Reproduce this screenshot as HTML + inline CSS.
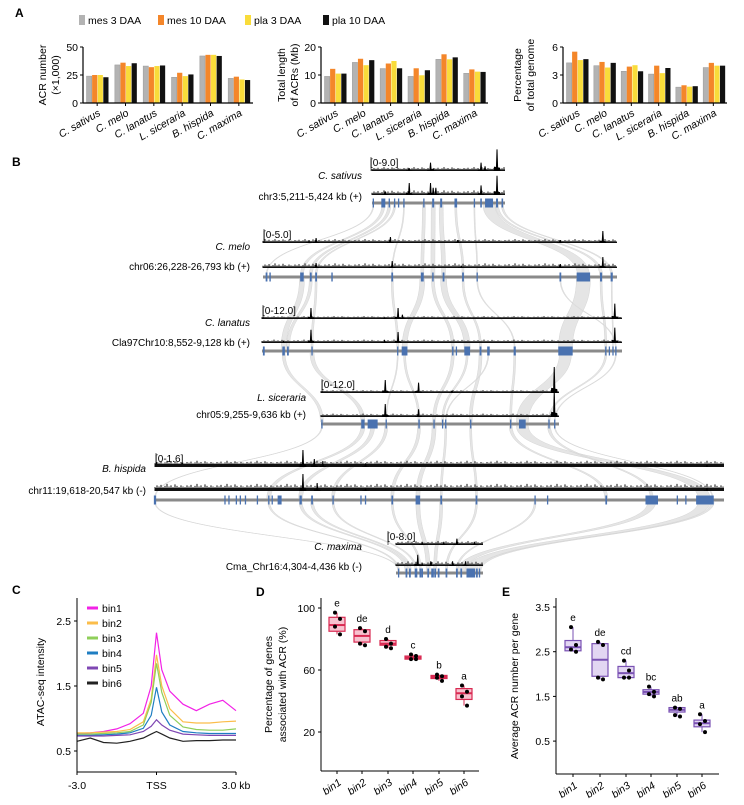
<!DOCTYPE html>
<html><head><meta charset="utf-8"><style>
html,body{margin:0;padding:0;background:#fff}
svg{display:block;font-family:"Liberation Sans",Arial,sans-serif}
</style></head><body>
<svg id="fig" width="744" height="805" viewBox="0 0 744 805" xmlns="http://www.w3.org/2000/svg">
<g id="ribbons"></g>
<g id="root"></g>
</svg>
<script>
// ---------- Panel A data ----------
const speciesA = ["C. sativus","C. melo","C. lanatus","L. siceraria","B. hispida","C. maxima"];
const seriesNames = ["mes 3 DAA","mes 10 DAA","pla 3 DAA","pla 10 DAA"];
const acrNumber = [[24,25,25,23],[34,36,33,35.5],[33,32,33,33.5],[23,27,24,25.5],[42,43,43,42],[22,23.5,21,20.5]];
const acrLength = [[9.5,12.2,10.5,10.5],[14.5,15.8,13.5,15.3],[12.3,14.1,15,12.4],[9.5,12.4,9.9,11.7],[15.6,17.4,15.6,16.3],[10.6,12,11.2,11.1]];
const acrPercent = [[4.3,5.5,4.6,4.7],[4.0,4.4,3.8,4.3],[3.4,3.9,4.05,3.4],[3.1,4.0,3.2,3.75],[1.7,1.9,1.75,1.8],[3.8,4.3,4.0,4.0]];
const ticksA1 = [0,25,50], ticksA2 = [0,10,20], ticksA3 = [0,3,6];
// ---------- Panel C data ----------
const cX = [-3,-2.5,-2,-1.5,-1,-0.5,-0.2,0,0.2,0.5,1,1.5,2,2.5,3];
const bin1 = [.77,.78,.80,.84,.92,1.08,1.5,2.32,1.75,1.42,1.22,1.12,1.22,1.28,1.12];
const bin2 = [.78,.78,.79,.80,.83,.95,1.3,1.98,1.5,1.15,.95,.93,.93,.95,.96];
const bin3 = [.76,.76,.77,.78,.80,.90,1.25,1.85,1.4,1.05,.87,.83,.82,.82,.84];
const bin4 = [.74,.74,.75,.76,.78,.85,1.05,1.48,1.1,.9,.80,.78,.77,.77,.77];
const bin5 = [.73,.73,.73,.74,.75,.80,.88,.98,.9,.82,.76,.75,.74,.74,.74];
const bin6 = [.65,.70,.63,.62,.65,.70,.76,.80,.76,.70,.65,.66,.66,.67,.67];
const cTicks = [0.5,1.5,2.5];
// ---------- Panel D/E data ----------
const bins = ["bin1","bin2","bin3","bin4","bin5","bin6"];
const dPoints = [[97,93,88,83],[87,85,77,76],[80,77,75,74],[70,69,67,67],[57,56,55,53],[50,46,43,37]];
const dBox = [[85,89,94],[78,82,86],[76,77,79],[67,68,69],[54.5,55.5,56.5],[41,45,48]];
const dLetters = ["e","de","d","c","b","a"];
const dTicks = [20,60,100];
const ePoints = [[3.05,2.65,2.55,2.5],[2.72,2.65,1.92,1.88],[2.3,2.08,1.92,1.92],[1.72,1.6,1.55,1.5],[1.25,1.22,1.08,1.05],[1.1,.95,.88,.7]];
const eBox = [[2.52,2.6,2.75],[1.95,2.32,2.68],[1.92,2.02,2.17],[1.55,1.6,1.65],[1.15,1.2,1.25],[.82,.9,.97]];
const eLetters = ["e","de","cd","bc","ab","a"];
const eTicks = [0.5,1.5,2.5,3.5];
// ---------- Panel B data ----------
const bSpecies = ["C. sativus","C. melo","C. lanatus","L. siceraria","B. hispida","C. maxima"];
const bRegions = ["chr3:5,211-5,424 kb (+)","chr06:26,228-26,793 kb (+)","Cla97Chr10:8,552-9,128 kb (+)","chr05:9,255-9,636 kb (+)","chr11:19,618-20,547 kb (-)","Cma_Chr16:4,304-4,436 kb (-)"];
const bRanges = ["[0-9.0]","[0-5.0]","[0-12.0]","[0-12.0]","[0-1.6]","[0-8.0]"];
const exons = [
 [[.01,.01],[.085,.03],[.13,.01],[.17,.01],[.2,.01],[.24,.01],[.39,.01],[.46,.015],[.52,.015],[.63,.02],[.77,.01],[.82,.012],[.88,.06],[.94,.015],[.98,.012]],
 [[.01,.005],[.02,.004],[.11,.01],[.135,.005],[.15,.005],[.195,.004],[.365,.005],[.45,.008],[.48,.004],[.51,.005],[.565,.005],[.605,.003],[.84,.005],[.905,.038],[.955,.006],[.985,.006]],
 [[.005,.005],[.06,.007],[.072,.005],[.139,.003],[.377,.003],[.396,.016],[.53,.004],[.54,.003],[.57,.016],[.607,.005],[.629,.007],[.702,.006],[.843,.04],[.955,.003],[.965,.003],[.975,.003],[.983,.003]],
 [[.004,.004],[.176,.014],[.217,.042],[.274,.004],[.412,.006],[.475,.005],[.511,.005],[.524,.005],[.629,.005],[.797,.005],[.846,.028],[.958,.004],[.982,.005]],
 [[0,.004],[.123,.002],[.13,.002],[.143,.002],[.15,.002],[.159,.002],[.18,.002],[.2,.002],[.206,.002],[.219,.007],[.256,.004],[.276,.003],[.313,.002],[.362,.002],[.37,.002],[.417,.003],[.462,.008],[.503,.003],[.565,.003],[.668,.002],[.69,.002],[.793,.003],[.873,.022],[.918,.002],[.933,.002],[.965,.028],[.98,.004]],
 [[.03,.01],[.12,.02],[.16,.02],[.23,.03],[.28,.02],[.3,.02],[.37,.02],[.42,.03],[.45,.02],[.49,.02],[.58,.02],[.70,.02],[.75,.02],[.86,.1],[.93,.02],[.96,.015]]
];
const peaks1 = [
 [[.28,.12],[.44,.35],[.46,.1],[.82,.35],[.85,.2],[.94,.9]],
 [[.13,.15],[.15,.25],[.36,.3],[.55,.15],[.84,.15],[.96,.6]],
 [[.136,.5],[.34,.08],[.378,.5],[.39,.2],[.98,.7]],
 [[.27,.5],[.41,.4],[.55,.08],[.98,1]],
 [[.26,.85],[.28,.4],[.295,.3],[.37,.18],[.97,.1]],
 [[.3,.2],[.55,.2],[.7,.4],[.9,.2]]
];
const peaks2 = [
 [[.10,.15],[.28,.5],[.44,.5],[.46,.3],[.48,.3],[.82,.4],[.94,.8]],
 [[.15,.25],[.365,.35],[.56,.12],[.84,.2],[.96,.55]],
 [[.06,.1],[.136,.6],[.34,.15],[.378,.5],[.98,.7]],
 [[.27,.5],[.41,.3],[.98,1]],
 [[.26,.85],[.285,.4],[.37,.12],[.97,.15]],
 [[.25,.7],[.3,.2],[.4,.3],[.65,.3],[.8,.3]]
];
const noisePattern = [1,2.5,1.5,3,1,2,4,1.5,2.5,1,3.5,2,1,2.5,1.5];
const links = [
 [[.085,.11,3],[.13,.135,3],[.17,.15,2],[.01,.01,1],[.24,.365,1],[.39,.45,3],[.46,.48,4],[.52,.51,4],[.63,.565,2],[.77,.605,1],[.88,.905,12],[.94,.955,3],[.98,.985,2]],
 [[.11,.06,5],[.135,.072,3],[.15,.139,2],[.365,.377,2],[.45,.396,5],[.48,.53,3],[.51,.57,6],[.565,.607,2],[.605,.702,1],[.84,.983,1],[.905,.843,14],[.955,.955,2],[.985,.975,1]],
 [[.06,.004,3],[.139,.176,4],[.377,.274,1],[.396,.412,2],[.53,.475,3],[.57,.511,2],[.607,.629,3],[.629,.524,1],[.702,.797,2],[.843,.846,12],[.955,.958,2],[.983,.982,1]],
 [[.004,0,1],[.176,.2,4],[.217,.256,4],[.274,.313,3],[.412,.417,3],[.475,.462,4],[.524,.503,2],[.629,.565,2],[.797,.793,3],[.846,.965,12],[.958,.873,3],[.982,.98,1]],
 [[.2,.03,2],[.256,.12,3],[.276,.16,3],[.313,.23,2],[.417,.28,2],[.462,.37,4],[.503,.45,3],[.565,.58,2],[.668,.7,2],[.873,.75,8],[.965,.86,12],[.98,.96,3],[0,.03,1]]
];
</script>
<script>
const NS="http://www.w3.org/2000/svg";
const root=document.getElementById('root');
function mk(tag,attrs,parent,text){const e=document.createElementNS(NS,tag);for(const k in attrs)e.setAttribute(k,attrs[k]);if(text!==undefined)e.textContent=text;(parent||root).appendChild(e);return e;}

[["A",15,17],["B",12,166],["C",12,594],["D",256,596],["E",502,596]].forEach(p=>{
 const t=mk('text',{x:p[1],y:p[2],'font-size':12,'font-weight':'bold'},root,p[0]);
 
 
});

// ---------- Panel A ----------
const barColors=["#b3b3b3","#f4862a","#f9dc3a","#111111"];
const lg=mk('g',{},root);


const legX=[79,158,245,323];
seriesNames.forEach((s,i)=>{
 const g=mk('g',{},lg);
 
 
 mk('rect',{x:legX[i],y:15,width:6,height:10,fill:barColors[i]},g);
 mk('text',{x:legX[i]+9,y:24,'font-size':10.5},g,s);
});
function barChart(name,x0,x1,y0,y1,maxV,data,ticks,ylabels,ylx){
 const g=mk('g',{},root);
 
 
 const sy=v=>y0-(v/maxV)*(y0-y1);
 const band=(x1-x0)/6;
 data.forEach((grp,ci)=>{
  grp.forEach((v,si)=>{
   const bx=x0+ci*band+3.5+si*5.6;
   const r=mk('rect',{x:bx,y:sy(v),width:5.2,height:y0-sy(v),fill:barColors[si],stroke:si==0?'#999':'none','stroke-width':0.5},g);
   
   
  });
  const cx=x0+ci*band+band/2;
  mk('line',{x1:cx,y1:y0,x2:cx,y2:y0+3,stroke:'#000'},g);
  const t=mk('text',{x:cx+4,y:y0+12,'font-size':10.5,'font-style':'italic','text-anchor':'end',transform:`rotate(-30 ${cx+4} ${y0+12})`},g,speciesA[ci]);
  
  
 });
 mk('line',{x1:x0,y1:y1,x2:x0,y2:y0,stroke:'#000','stroke-width':1.2},g);
 mk('line',{x1:x0,y1:y0,x2:x1,y2:y0,stroke:'#000','stroke-width':1.2},g);
 ticks.forEach(t=>{mk('line',{x1:x0-3,y1:sy(t),x2:x0,y2:sy(t),stroke:'#000'},g);
  mk('text',{x:x0-5,y:sy(t)+4,'font-size':10.5,'text-anchor':'end'},g,t);});
 ylabels.forEach((l,i)=>{const lx=ylx+i*13, ly=(y0+y1)/2;
  const t=mk('text',{x:lx,y:ly,'font-size':10.5,'text-anchor':'middle',transform:`rotate(-90 ${lx} ${ly})`},g,l);
  
  });
}
barChart('acr-number-chart',83,253,103,47,50,acrNumber,ticksA1,["ACR number","(×1,000)"],46);
barChart('acr-length-chart',321,488,103,47,20,acrLength,ticksA2,["Total length","of ACRs (Mb)"],285);
barChart('acr-percent-chart',563,727,103,47,6,acrPercent,ticksA3,["Percentage","of total genome"],521);

// ---------- Panel B ----------
const tracks=[
 {x0:372,x1:505,t1:171,t2:195,g:203,lr:362,ly1:179,ly2:200,rx:370,h:24},
 {x0:263,x1:617,t1:243,t2:268,g:277,lr:250,ly1:250,ly2:270,rx:263,h:20},
 {x0:262,x1:622,t1:319,t2:343,g:351,lr:250,ly1:326,ly2:346,rx:262,h:22},
 {x0:321,x1:559,t1:393,t2:417,g:424,lr:306,ly1:401,ly2:418,rx:321,h:26},
 {x0:155,x1:724,t1:467,t2:491,g:500,lr:146,ly1:472,ly2:494,rx:155,h:20},
 {x0:396,x1:483,t1:545,t2:566,g:573,lr:362,ly1:550,ly2:570,rx:387,h:16}
];
const rib=document.getElementById('ribbons');
links.forEach((ls,i)=>{const A=tracks[i],B=tracks[i+1];
 ls.forEach(l=>{
  const xa=A.x0+l[0]*(A.x1-A.x0), xb=B.x0+l[1]*(B.x1-B.x0), w=l[2];
  const ya=A.g+2, yb=B.g-2, my=(ya+yb)/2;
  const d=`M${xa-w/2},${ya} C${xa-w/2},${my} ${xb-w/2},${my} ${xb-w/2},${yb} L${xb+w/2},${yb} C${xb+w/2},${my} ${xa+w/2},${my} ${xa+w/2},${ya} Z`;
  const p=mk('path',{d:d,fill:'#dcdcdc',stroke:'#d6d6d6','stroke-width':0.5,'fill-opacity':0.75},rib);
  
  
 });
});
function signal(g,tr,base,pk,thick,noiseScale){
 const w=tr.x1-tr.x0;
 mk('rect',{x:tr.x0,y:base-thick,width:w,height:thick,fill:'#111'},g);
 let d='';
 for(let x=tr.x0,k=0;x<tr.x1;x+=2,k++){const h=noisePattern[k%noisePattern.length]*noiseScale;d+=`M${x},${base} L${x},${base-thick-h} `;}
 mk('path',{d:d,stroke:'#111','stroke-width':1,fill:'none'},g);
 pk.forEach(p=>{const px=tr.x0+p[0]*w, ph=p[1]*tr.h;
  const e=mk('path',{d:`M${px-1.2},${base} L${px-0.5},${base-ph} L${px+0.5},${base-ph} L${px+1.2},${base} Z`,fill:'#000'},g);
  
  
  mk('path',{d:`M${px-3.5},${base} L${px-3},${base-ph*0.2} L${px+3},${base-ph*0.15} L${px+3.5},${base} Z`,fill:'#000'},g);
 });
}
tracks.forEach((tr,i)=>{
 const g=mk('g',{},root);
 
 
 const th=i==4?3:1.5;
 const ns=i==4?0.8:(i==2||i==3?0.35:0.6);
 signal(g,tr,tr.t1,peaks1[i],th,ns);
 signal(g,tr,tr.t2,peaks2[i],th,ns*1.3);
 mk('text',{x:tr.rx,y:tr.t1-5,'font-size':10},g,bRanges[i]);
 mk('line',{x1:tr.rx+1,y1:tr.t1-14,x2:tr.rx+1,y2:tr.t1,stroke:'#000','stroke-width':0.6},g);
 mk('text',{x:tr.lr,y:tr.ly1,'font-size':10,'font-style':'italic','text-anchor':'end'},g,bSpecies[i]);
 mk('text',{x:tr.lr,y:tr.ly2,'font-size':10,'text-anchor':'end'},g,bRegions[i]);
 const w=tr.x1-tr.x0;
 mk('rect',{x:tr.x0,y:tr.g-1.5,width:w,height:3,fill:'#8a8a8a'},g);
 exons[i].forEach(e=>{const ex=tr.x0+e[0]*w, ew=Math.max(1.3,e[1]*w);
  const r=mk('rect',{x:ex-ew/2,y:tr.g-4.5,width:ew,height:9,fill:'#4a72b0'},g);
  
  
 });
});

// ---------- Panel C ----------
(function(){
 const g=mk('g',{},root);
 
 
 const x0=77,x1=236,y0=772,yTop=598;
 const sx=v=>x0+(v+3)/6*(x1-x0);
 const sy=v=>751-(v-0.5)*65;
 const cols=["#f222e6","#fbbd4a","#8fcf5a","#1f7ec2","#7f47b3","#222"];
 [bin1,bin2,bin3,bin4,bin5,bin6].forEach((s,i)=>{
  const d=s.map((v,j)=>(j?'L':'M')+sx(cX[j]).toFixed(1)+','+sy(v).toFixed(1)).join(' ');
  const p=mk('path',{d:d,fill:'none',stroke:cols[i],'stroke-width':1.2},g);
  
  
  mk('line',{x1:87,y1:608+i*15,x2:98,y2:608+i*15,stroke:cols[i],'stroke-width':3},g);
  mk('text',{x:102,y:612+i*15,'font-size':10.5},g,bins[i]);
 });
 mk('line',{x1:x0,y1:yTop,x2:x0,y2:y0,stroke:'#000'},g);
 mk('line',{x1:x0,y1:y0,x2:x1,y2:y0,stroke:'#000'},g);
 cTicks.forEach(t=>{mk('line',{x1:x0-3,y1:sy(t),x2:x0,y2:sy(t),stroke:'#000'},g);
  mk('text',{x:x0-6,y:sy(t)+4,'font-size':10.5,'text-anchor':'end'},g,t.toFixed(1));});
 [[-3,'-3.0'],[0,'TSS'],[3,'3.0 kb']].forEach(t=>{mk('line',{x1:sx(t[0]),y1:y0,x2:sx(t[0]),y2:y0+3,stroke:'#000'},g);
  mk('text',{x:sx(t[0]),y:y0+17,'font-size':10.5,'text-anchor':'middle'},g,t[1]);});
 const t=mk('text',{x:44,y:682,'font-size':10.5,'text-anchor':'middle',transform:'rotate(-90 44 682)'},g,'ATAC-seq intensity');
 
 
})();

// ---------- Panel D / E ----------
function boxChart(name,x0,x1,y0,sy,pts,box,letters,ticks,fmt,col,fill,ylabels,ylx,cxs){
 const g=mk('g',{},root);
 
 
 mk('line',{x1:x0,y1:598,x2:x0,y2:y0,stroke:'#000'},g);
 mk('line',{x1:x0,y1:y0,x2:x1,y2:y0,stroke:'#000'},g);
 ticks.forEach(t=>{mk('line',{x1:x0-3,y1:sy(t),x2:x0,y2:sy(t),stroke:'#000'},g);
  mk('text',{x:x0-6,y:sy(t)+4,'font-size':10.5,'text-anchor':'end'},g,fmt(t));});
 bins.forEach((b,i)=>{
  const cx=cxs[i], bw=16;
  const mx=Math.max(...pts[i]), mn=Math.min(...pts[i]);
  mk('line',{x1:cx,y1:sy(mx),x2:cx,y2:sy(mn),stroke:col,'stroke-width':1},g);
  const r=mk('rect',{x:cx-bw/2,y:sy(box[i][2]),width:bw,height:Math.max(1,sy(box[i][0])-sy(box[i][2])),fill:fill,stroke:col,'stroke-width':1.2},g);
  
  
  mk('line',{x1:cx-bw/2,y1:sy(box[i][1]),x2:cx+bw/2,y2:sy(box[i][1]),stroke:col,'stroke-width':2},g);
  pts[i].forEach((v,j)=>{const c=mk('circle',{cx:cx+(j%2?3:-2),cy:sy(v),r:2,fill:'#000'},g);
   
   });
  mk('text',{x:cx,y:sy(mx)-6,'font-size':10,'text-anchor':'middle'},g,letters[i]);
  mk('line',{x1:cx,y1:y0,x2:cx,y2:y0+3,stroke:'#000'},g);
  mk('text',{x:cx+5,y:y0+13,'font-size':10.5,'font-style':'italic','text-anchor':'end',transform:`rotate(-35 ${cx+5} ${y0+13})`},g,b);
 });
 ylabels.forEach((l,i)=>{const lx=ylx+i*14, ly=(598+y0)/2;
  const t=mk('text',{x:lx,y:ly,'font-size':10.5,'text-anchor':'middle',transform:`rotate(-90 ${lx} ${ly})`},g,l);
  
  });
}
boxChart('acr-gene-percent-chart',321,479,771,v=>608+(100-v)*1.55,dPoints,dBox,dLetters,dTicks,t=>t,'#d92a52','#f7c2cf',["Percentage of genes","associated with ACR (%)"],272,[337,362,388,413,439,464]);
boxChart('acr-per-gene-chart',556,719,774,v=>607+(3.5-v)*44.7,ePoints,eBox,eLetters,eTicks,t=>t.toFixed(1),'#7a52b3','#e2d6f2',["Average ACR number per gene"],518,[573,600,626,651,677,702]);
</script>
</body></html>
